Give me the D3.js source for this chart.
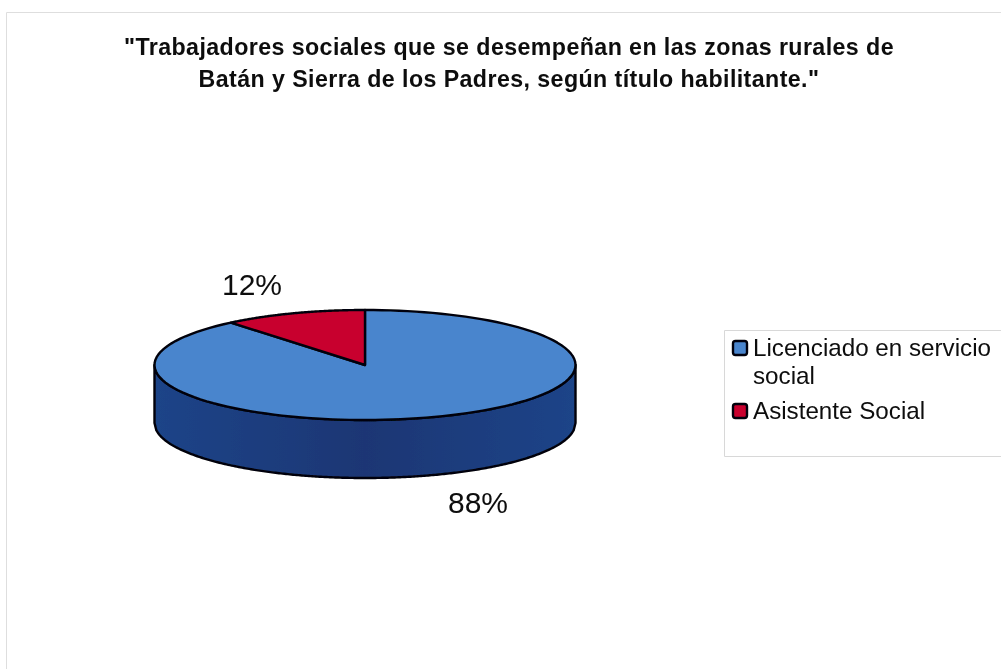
<!DOCTYPE html>
<html><head><meta charset="utf-8">
<script src="https://cdn.jsdelivr.net/npm/d3@7/dist/d3.min.js"></script>
<style>html,body{margin:0;padding:0;background:#fff}svg{display:block}text{font-family:"Liberation Sans",Arial,sans-serif;fill:#0c0c0c}</style>
</head><body><svg id="c" width="1001" height="669"></svg>
<script>
const categories = ["Licenciado en servicio social", "Asistente Social"];
const legendLines = [["Licenciado en servicio", "social"], ["Asistente Social"]];
const values = [88, 12];
const valueLabels = ["88%", "12%"];
const titleLines = ['"Trabajadores sociales que se desempeñan en las zonas rurales de', 'Batán y Sierra de los Padres, según título habilitante."'];
const topColors = ["#4a85cd", "#c8052f"];

const svg = d3.select("#c");
const defs = svg.append("defs");
defs.append("filter").attr("id","soft").append("feGaussianBlur").attr("stdDeviation",0.45);
const g = defs.append("linearGradient").attr("id","side");
[[0,"#1a4488"],[0.5,"#1a3674"],[1,"#1a4488"]].forEach(([o,c])=>g.append("stop").attr("offset",o).attr("stop-color",c));

const root = svg.append("g").attr("filter","url(#soft)");

// chart frame
root.append("path").attr("d","M1001 12.5H6.5V669").attr("fill","none").attr("stroke","#dedede").attr("stroke-width",1);

// title
root.append("g").selectAll("text").data(titleLines).join("text")
  .attr("x",509).attr("y",(d,i)=>55+i*32).attr("text-anchor","middle")
  .attr("font-size",23.2).attr("letter-spacing",0.42).attr("font-weight","bold").text(d=>d);

// pie geometry
const cx=365, cy=365, rx=210.5, ry=55, depth=58;
const pie = d3.pie().sort(null).startAngle(0).endAngle(2*Math.PI);
const arcs = pie(values);
// foreshortening of the tilted view near the back of the disc
const view = a => Math.atan2(Math.sin(a)*0.88, Math.cos(a));
const pt = a=>[cx+rx*Math.sin(view(a)), cy-ry*Math.cos(view(a))];
const line = d3.line();
const rim = (a0,a1)=>d3.range(0,121).map(i=>pt(a0+(a1-a0)*i/120));

// side wall (front half of the disc)
const xs = d3.range(0,241).map(i=>cx+rx-2*rx*i/240);
const topEdge = xs.map(x=>[x,cy+ry*Math.sqrt(Math.max(0,1-((x-cx)/rx)**2))]);
const botEdge = topEdge.map(p=>[p[0],p[1]+depth]).reverse();
root.append("path").attr("d",line([...topEdge,...botEdge])+"Z")
  .attr("fill","url(#side)").attr("stroke","#050508").attr("stroke-width",2.4).attr("stroke-linejoin","round");

// top slices
root.append("g").selectAll("path").data(arcs).join("path")
  .attr("d",d=>line([[cx,cy],...rim(d.startAngle,d.endAngle)])+"Z")
  .attr("fill",(d,i)=>topColors[i]).attr("stroke","#050508").attr("stroke-width",2.4).attr("stroke-linejoin","round");

// value labels
const labelPos = [[478,513],[252,295]];
root.append("g").selectAll("text").data(valueLabels).join("text")
  .attr("x",(d,i)=>labelPos[i][0]).attr("y",(d,i)=>labelPos[i][1]).attr("text-anchor","middle")
  .attr("font-size",30).text(d=>d);

// legend
root.append("path").attr("d","M1001 330.5H724.5V456.5H1001").attr("fill","none").attr("stroke","#d8d8d8");
const legY=[[356,384],[419]];
legendLines.forEach((lines,i)=>{
  root.append("rect").attr("x",733).attr("y",legY[i][0]-15).attr("width",14).attr("height",14).attr("rx",2.5)
    .attr("fill",topColors[i]).attr("stroke","#050508").attr("stroke-width",2.4);
  lines.forEach((t,j)=>root.append("text").attr("x",753).attr("y",legY[i][j]).attr("font-size",24.2).text(t));
});
</script></body></html>
